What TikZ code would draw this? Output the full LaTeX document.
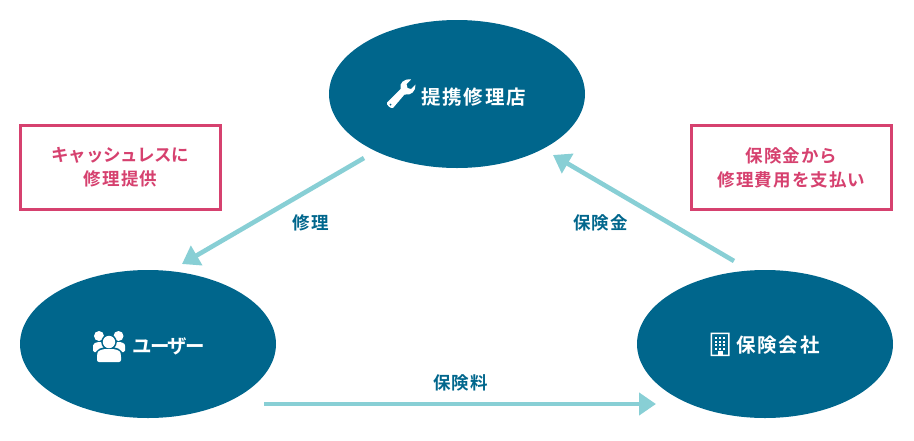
\documentclass[tikz,border=0pt]{standalone}
\usepackage{fontspec}
\setmainfont{Noto Sans CJK JP}
\newfontfamily\jpbig[LetterSpace=9.5]{Noto Sans CJK JP Bold}
\newfontfamily\jpbigkana[LetterSpace=-8]{Noto Sans CJK JP Bold}
\newfontfamily\jpsmall[LetterSpace=6]{Noto Sans CJK JP Bold}
\newfontfamily\jpsmallkana[LetterSpace=-1.4]{Noto Sans CJK JP Bold}
\usetikzlibrary{arrows.meta,shapes.geometric}
\definecolor{teal}{HTML}{00668C}
\definecolor{aqua}{HTML}{88CFD5}
\definecolor{rose}{HTML}{D6416F}
\tikzset{
 x=1pt,y=-1pt,
 party/.style={ellipse,fill=teal,minimum width=256pt,minimum height=148pt,inner sep=0pt},
 partytext/.style={text=white,font=\jpbig\fontsize{19.5}{22}\selectfont,inner sep=0pt,anchor=west},
 flow/.style={draw=aqua,line width=4.6pt,-{Triangle[length=17pt,width=22pt]}},
 flowlabel/.style={text=teal,font=\jpsmall\fontsize{17.5}{20}\selectfont,inner sep=0pt},
 note/.style={draw=rose,line width=3pt,fill=white,minimum width=200pt,minimum height=84pt,inner sep=0pt,align=center,text=rose,font=\jpsmall\fontsize{17.5}{24}\selectfont},
}
\begin{document}
\begin{tikzpicture}
\useasboundingbox (0,0) rectangle (914,440);
\node[party] (shop) at (457,94) {};
\node[party] (user) at (148,344) {};
\node[party] (ins) at (765,344) {};
\node[partytext] (shopt) at (421,97) {提携修理店};
\node[partytext] (usert) at (132,346) {\jpbigkana\fontsize{19.5}{22}\selectfont ユーザー};
\node[partytext] (inst) at (736,345) {保険会社};
\node[note] (n1) at (120.5,167.5) {{\jpsmallkana\fontsize{17.5}{24}\selectfont キャッシュレスに}\\修理提供};
\node[note] (n2) at (791.5,167.5) {保険金から\\修理費用を支払い};
\coordinate (a1) at (364,158); \coordinate (a2) at (182,264);
\coordinate (b1) at (734,261); \coordinate (b2) at (553,155);
\coordinate (c1) at (264,404); \coordinate (c2) at (656,404);
\draw[flow] (a1) -- (a2);
\draw[flow] (b1) -- (b2);
\draw[flow] (c1) -- (c2);
\node[flowlabel] (l1) at (310.5,223) {修理};
\node[flowlabel] (l2) at (600.5,223) {保険金};
\node[flowlabel] (l3) at (460.5,383) {保険料};
% wrench
\fill[white] (387,102.5) -- (400.5,89) .. controls (399,83) and (404,78.5) .. (411,79.5) -- (406.5,84) -- (407.5,88) -- (411,89) -- (415.5,84.5) .. controls (416,91) and (411,96) .. (404.5,94.5) -- (393,108) .. controls (391,109) and (386,105) .. (387,102.5) -- cycle;
\fill[teal] (390.5,104.5) circle (1);
% people
\fill[white] (99,336) circle (5);
\fill[white] (118.5,336) circle (5);
\fill[white,rounded corners=1.5pt] (93,352) -- (93,347) .. controls (93,343.5) and (96,342) .. (100,342) -- (117,342) .. controls (122,342) and (125,343.5) .. (125,347) -- (125,352) -- cycle;
\fill[teal] (109,342) circle (7.8);
\fill[teal] (95,364) -- (95,355) .. controls (96,349) and (101,347) .. (109,347) .. controls (117,347) and (122,349) .. (123,355) -- (123,364) -- cycle;
\fill[white] (109,342) circle (6.2);
\fill[white,rounded corners=2pt] (97,362) -- (97,355) .. controls (98,350.5) and (102,349) .. (109,349) .. controls (116,349) and (120,350.5) .. (121,355) -- (121,362) -- cycle;
% building
\fill[white,even odd rule] (710.5,332.5) rectangle (729.5,356) (712,334) rectangle (728,354.5);
\foreach \i in {0,1,2}{\foreach \j in {0,1,2,3}{\fill[white] (715+\i*4,337+\j*3.6) rectangle ++(2.4,2.2);}}
\fill[white] (717.5,351) rectangle (722.5,355);
\end{tikzpicture}
\end{document}
